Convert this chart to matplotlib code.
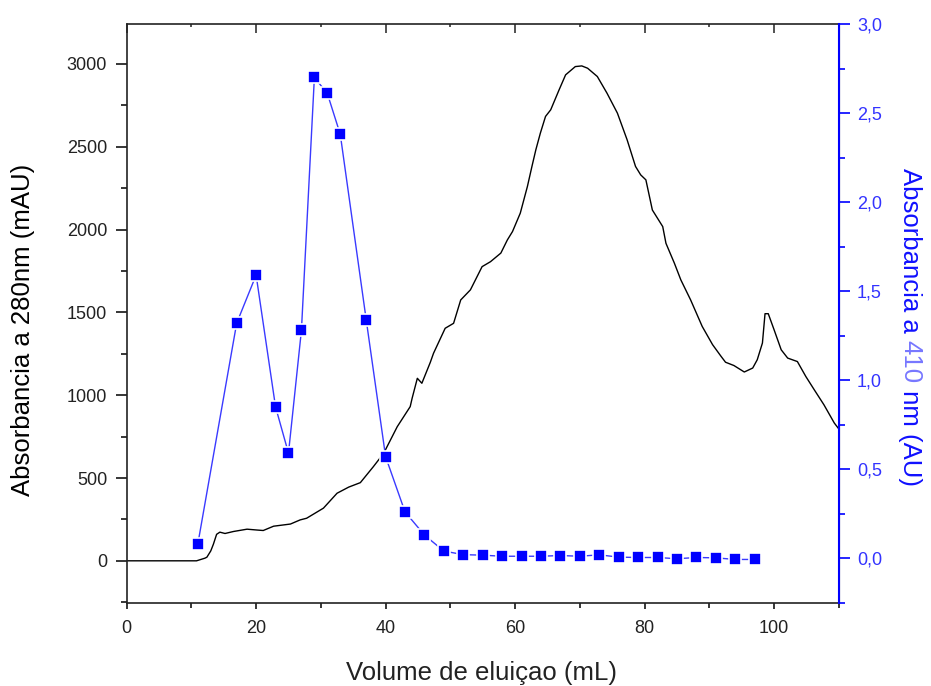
import matplotlib.pyplot as plt
from matplotlib.ticker import MultipleLocator, FuncFormatter

plt.rcParams['font.family'] = ['Liberation Sans', 'DejaVu Sans']

# curva a 280 nm (mAU)
vol_280 = [0, 10.8, 12.1, 12.4, 13.0, 13.4, 13.9, 14.4, 15.2, 16.5, 18.0, 18.6,
           20.1, 21.1, 22.7, 25.3, 26.8, 27.8, 30.4, 32.5, 34.3, 36.1, 38.1,
           39.7, 41.8, 43.8, 44.1, 44.9, 45.6, 46.9, 47.4, 49.2, 50.5, 51.6,
           53.1, 54.9, 56.2, 57.8, 58.8, 59.6, 60.8, 61.9, 62.6, 63.2, 63.9,
           64.7, 65.5, 66.8, 67.8, 69.3, 70.3, 71.2, 72.7, 74.2, 75.8, 77.3,
           78.6, 79.4, 80.2, 81.2, 82.8, 83.3, 84.6, 85.6, 87.1, 88.9, 90.5,
           91.8, 92.5, 93.8, 95.4, 96.7, 97.4, 98.2, 98.6, 99.1, 100.0, 101.1,
           102.1, 103.6, 104.9, 106.2, 107.7, 109.3, 110.1]
abs_280 = [0, 0, 16, 22, 60, 100, 160, 173, 165, 177, 187, 191,
           186, 183, 209, 222, 247, 257, 318, 408, 445, 472, 568,
           649, 810, 931, 982, 1102, 1072, 1198, 1253, 1404, 1434, 1575,
           1636, 1776, 1806, 1858, 1937, 1988, 2099, 2260, 2381, 2481, 2582,
           2683, 2723, 2844, 2934, 2984, 2988, 2974, 2924, 2823, 2703, 2542,
           2381, 2330, 2300, 2118, 2018, 1917, 1797, 1696, 1576, 1415, 1305,
           1235, 1199, 1179, 1140, 1164, 1214, 1315, 1492, 1492, 1395, 1274,
           1224, 1203, 1113, 1033, 942, 832, 791]

# fracciones a 410 nm (AU)
vol_410 = [11, 17, 20, 23, 25, 27, 29, 31, 33, 37, 40, 43, 46, 49, 52, 55, 58,
           61, 64, 67, 70, 73, 76, 79, 82, 85, 88, 91, 94, 97]
abs_410 = [0.08, 1.32, 1.59, 0.85, 0.59, 1.28, 2.70, 2.61, 2.38, 1.34, 0.57,
           0.26, 0.13, 0.04, 0.02, 0.017, 0.011, 0.011, 0.011, 0.015, 0.011,
           0.019, 0.006, 0.004, 0.004, -0.003, 0.004, 0.002, -0.007, -0.007]

fig = plt.figure(figsize=(9.31, 6.86), dpi=100)
ax = fig.add_axes([0.136, 0.1214, 0.765, 0.8436])
ax2 = ax.twinx()

ax.plot(vol_280, abs_280, color='black', lw=1.0)
ax2.plot(vol_410, abs_410, color='#3a3aff', lw=1.0, marker='s', ms=8.5,
         mfc='#0000ff', mec='white', mew=1.2)

ax.set_xlim(0, 110)
ax.set_ylim(-253, 3241)
ax2.set_ylim(-0.25, 3.0)

ax.xaxis.set_major_locator(MultipleLocator(20))
ax.xaxis.set_minor_locator(MultipleLocator(10))
ax.yaxis.set_major_locator(MultipleLocator(500))
ax.yaxis.set_minor_locator(MultipleLocator(250))
ax2.yaxis.set_major_locator(MultipleLocator(0.5))
ax2.yaxis.set_minor_locator(MultipleLocator(0.25))
ax2.yaxis.set_major_formatter(FuncFormatter(lambda v, p: f'{v:.1f}'.replace('.', ',')))

for s in ['left', 'bottom', 'top']:
    ax.spines[s].set_color('#222222')
    ax.spines[s].set_linewidth(1.2)
ax2.spines['right'].set_color('#0000ff')
ax2.spines['right'].set_linewidth(1.5)
for s in ['left', 'bottom', 'top']:
    ax2.spines[s].set_visible(False)

ax.tick_params(axis='y', which='major', length=8, width=1.1, direction='out',
               labelsize=13, labelcolor='#222222', pad=6)
ax.tick_params(axis='y', which='minor', length=4.5, width=1.1, direction='out')
ax.tick_params(axis='x', which='major', length=4.5, width=1.1, direction='out',
               labelsize=13, labelcolor='#222222', pad=8)
ax.tick_params(axis='x', which='minor', length=3.5, width=1.1, direction='out')

# ticks de arriba hacia dentro
top = ax.secondary_xaxis('top')
top.xaxis.set_major_locator(MultipleLocator(20))
top.xaxis.set_minor_locator(MultipleLocator(10))
top.tick_params(which='major', direction='in', length=6.5, width=1.1, labeltop=False,
                color='#222222')
top.tick_params(which='minor', direction='in', length=2.5, width=1.1, color='#222222')
top.spines['top'].set_visible(False)

ax2.tick_params(axis='y', which='major', length=8, width=1.2, direction='out',
                colors='#0000ff', labelcolor='#3333ff', labelsize=13, pad=5)
ax2.tick_params(axis='y', which='minor', length=4.5, width=1.2, direction='out',
                colors='#0000ff')

fig.text(481.5 / 931, 1 - 673 / 686, 'Volume de eluiçao (mL)', fontsize=18.5,
         color='#222222', ha='center', va='center')
fig.text(23 / 931, 1 - 330 / 686, 'Absorbancia a 280nm (mAU)', fontsize=18.5,
         color='black', ha='center', va='center', rotation=90)

# etiqueta derecha con "410" en azul claro
partes = [('Absorbancia a ', '#1010ff'), ('410', '#7777ff'), (' nm (AU)', '#1010ff')]
r = fig.canvas.get_renderer()
y = 1 - 168 / 686
for txt, col in partes:
    t = fig.text(910 / 931, y, txt, rotation=-90, fontsize=18.5, color=col,
                 ha='center', va='top')
    bb = t.get_window_extent(renderer=r)
    y -= bb.height / fig.bbox.height

fig.savefig('out.png', dpi=100)
